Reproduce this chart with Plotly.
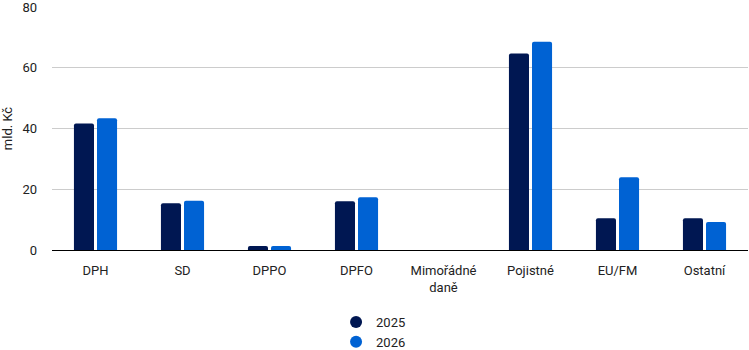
import plotly.graph_objects as go

categories = ["DPH", "SD", "DPPO", "DPFO", "Mimořádné<br>daně", "Pojistné", "EU/FM", "Ostatní"]
values_2025 = [41.7, 15.4, 1.3, 16.1, 0, 64.7, 10.5, 10.5]
values_2026 = [43.4, 16.2, 1.3, 17.4, 0, 68.6, 24.0, 9.2]
series_names = ["2025", "2026"]
colors = ["#001752", "#0062D3"]
y_ticks = [0, 20, 40, 60, 80]

fig = go.Figure()
for name, vals, col in zip(series_names, [values_2025, values_2026], colors):
    fig.add_trace(go.Bar(x=categories, y=vals, name=name, marker_color=col,
                         marker_line_width=0, showlegend=False))
for name, col in zip(series_names, colors):
    fig.add_trace(go.Scatter(x=[None], y=[None], mode="markers", name=name,
                             marker=dict(color=col, size=12, symbol="circle")))

fig.update_layout(
    width=749, height=350,
    margin=dict(l=52, r=1, t=7, b=100, autoexpand=False),
    paper_bgcolor="white", plot_bgcolor="white",
    font=dict(family="Roboto", size=13, color="#222222"),
    barmode="group", bargap=0.47, bargroupgap=0.13, barcornerradius=2,
    legend=dict(orientation="v", x=0.462, xanchor="center", yref="container",
                y=0.123, yanchor="top", font=dict(size=13), itemwidth=30,
                tracegroupgap=0),
    showlegend=True,
)
fig.update_yaxes(range=[0, 80.05], tickmode="array", tickvals=y_ticks,
                 ticktext=[str(v) for v in y_ticks],
                 showgrid=True, gridcolor="#CCCCCC",
                 gridwidth=1, zeroline=False,
                 title=dict(text="mld. Kč", standoff=10, font=dict(size=13)),
                 ticks="", ticklabelstandoff=14, automargin=False,
                 ticklabeloverflow="allow")
fig.update_xaxes(showline=True, linecolor="#000000", linewidth=1, ticks="",
                 tickfont=dict(size=13), ticklabelstandoff=8, automargin=False)

fig.write_html("out.html")
